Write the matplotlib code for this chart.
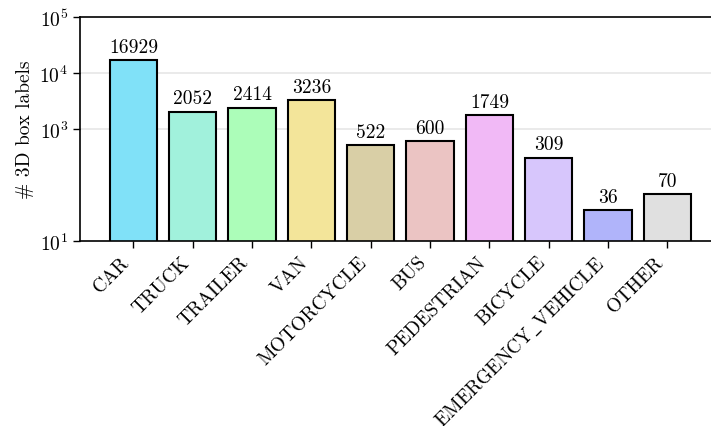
import matplotlib
matplotlib.use("Agg")
import matplotlib.pyplot as plt
from matplotlib.ticker import FixedLocator, NullLocator, LogFormatterSciNotation

plt.rcParams["font.family"] = ["cmr10", "DejaVu Serif"]
plt.rcParams["mathtext.fontset"] = "cm"
plt.rcParams["axes.formatter.use_mathtext"] = True
plt.rcParams["font.size"] = 14

categories = ["CAR", "TRUCK", "TRAILER", "VAN", "MOTORCYCLE", "BUS",
              "PEDESTRIAN", "BICYCLE", r"EMERGENCY$\_$VEHICLE", "OTHER"]
counts = [16929, 2052, 2414, 3236, 522, 600, 1749, 309, 36, 70]
bar_colors = ["#80e1f8", "#a1f1dc", "#acfdb9", "#f3e59a", "#d9cfa6",
              "#ebc4c3", "#f1b9f6", "#d7c6fc", "#b0b4fa", "#e0e0e0"]
y_ticks = [1e1, 1e3, 1e4, 1e5]
grid_levels = [1e3, 1e4]

fig = plt.figure(figsize=(7.11, 4.27), dpi=100)
ax = fig.add_axes([80 / 711, 1 - 242 / 427, 640.8 / 711, 224 / 427])

x = list(range(len(categories)))
ax.set_yscale("log")
for lvl in grid_levels:
    ax.axhline(lvl, color="#e6e6e6", lw=1.2, zorder=0)

bars = ax.bar(x, counts, width=0.8, color=bar_colors, edgecolor="black",
              linewidth=1.5, zorder=2)
for xi, v in zip(x, counts):
    ax.annotate(f"{v}", (xi, v), xytext=(0, 3), textcoords="offset points",
                ha="center", va="bottom", fontsize=14)

ax.set_ylim(10, 1e5)
ax.set_xlim(-0.9, 9.9)
ax.yaxis.set_major_locator(FixedLocator(y_ticks))
ax.yaxis.set_major_formatter(LogFormatterSciNotation())
ax.yaxis.set_minor_locator(NullLocator())
ax.set_xticks(x)
ax.set_xticklabels(categories, rotation=45, ha="right")
ax.tick_params(axis="both", direction="out", length=5, width=1.0)
ax.set_ylabel("# 3D box labels", fontsize=14)
ax.spines["right"].set_visible(False)
for s in ("left", "top", "bottom"):
    ax.spines[s].set_linewidth(1.2)

fig.savefig("out.png", dpi=100)
